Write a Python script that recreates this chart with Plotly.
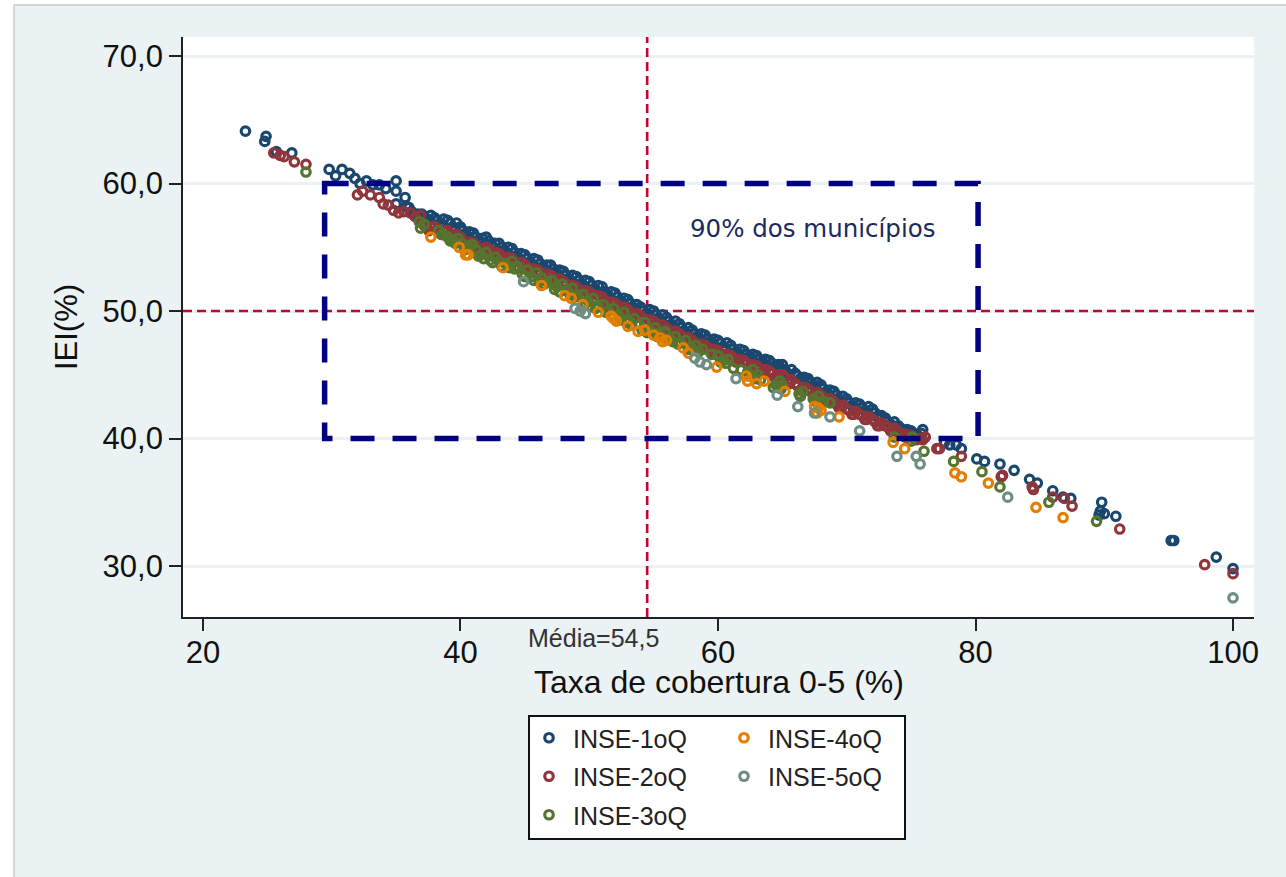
import plotly.graph_objects as go

series_names = ["INSE-1oQ", "INSE-2oQ", "INSE-3oQ", "INSE-4oQ", "INSE-5oQ"]
series_colors = ["#1a476f", "#90353b", "#55752f", "#e37e00", "#6e8e84"]
series_legends = ["legend", "legend", "legend", "legend2", "legend2"]

x_ticks = [20, 40, 60, 80, 100]
y_ticks = [30, 40, 50, 60, 70]
y_tick_labels = ["30,0", "40,0", "50,0", "60,0", "70,0"]

q1_x = [23.3, 24.9, 24.8, 25.7, 26.9, 29.8, 30.3, 30.8, 31.4, 31.8, 32.2, 32.7, 33.2, 33.7, 34.2, 35.0, 35.0, 35.7, 35.0, 35.8,
        36.0, 36.4, 36.7, 37.0, 37.4, 37.7, 38.0, 38.4, 38.7, 39.0, 39.4, 39.7, 40.0, 40.4, 40.7, 41.0, 41.4, 41.7,
        42.0, 42.4, 42.7, 43.0, 43.4, 43.7, 44.0, 44.4, 44.7, 45.0, 45.4, 45.7, 46.0, 46.4, 46.7, 47.0, 47.4, 47.7,
        48.0, 48.4, 48.7, 49.0, 49.4, 49.7, 50.0, 50.4, 50.7, 51.0, 51.4, 51.7, 52.0, 52.4, 52.7, 53.0, 53.4, 53.7,
        54.0, 54.4, 54.7, 55.0, 55.4, 55.7, 56.0, 56.4, 56.7, 57.0, 57.4, 57.7, 58.0, 58.4, 58.7, 59.0, 59.4, 59.7,
        60.0, 60.4, 60.7, 61.0, 61.4, 61.7, 62.0, 62.4, 62.7, 63.0, 63.4, 63.7, 64.0, 64.4, 64.7, 65.0, 65.4, 65.7,
        66.0, 66.4, 66.7, 67.0, 67.4, 67.7, 68.0, 68.4, 68.7, 69.0, 69.4, 69.7, 70.0, 70.4, 70.7, 71.0, 71.4, 71.7,
        72.0, 72.4, 72.7, 73.0, 73.4, 73.7, 74.0, 74.4, 74.7, 75.0, 75.4, 75.8, 75.9,
        77.6, 78.0, 78.5, 78.9, 80.1, 80.7, 81.9, 83.0, 84.2, 84.8, 86.0, 86.8, 87.4, 89.8, 89.7, 89.6, 90.0, 90.9, 95.2, 95.4, 98.7, 100.0,
        36.2, 37.2, 38.2, 39.2, 40.2, 41.2, 42.2, 43.2, 44.2, 45.2, 46.2, 47.2, 48.2, 49.2, 50.2, 51.2, 52.2, 53.2, 54.2, 55.2,
        56.2, 57.2, 58.2, 59.2, 60.2, 61.2, 62.2, 63.2, 64.2, 65.2, 66.2, 67.2, 68.2, 69.2, 70.2, 71.2, 72.2, 73.2, 74.2, 75.2,
        36.55, 37.55, 38.55, 39.55, 40.55, 41.55, 42.55, 43.55, 44.55, 45.55, 46.55, 47.55, 48.55, 49.55, 50.55, 51.55, 52.55, 53.55, 54.55, 55.55,
        56.55, 57.55, 58.55, 59.55, 60.55, 61.55, 62.55, 63.55, 64.55, 65.55, 66.55, 67.55, 68.55, 69.55, 70.55, 71.55, 72.55, 73.55, 74.55, 75.55]
q1_y = [64.1, 63.7, 63.3, 62.5, 62.4, 61.1, 60.6, 61.1, 60.8, 60.4, 60.0, 60.2, 59.9, 59.9, 59.6, 60.2, 59.4, 58.9, 58.4, 58.2,
        58.1, 57.5, 57.6, 57.6, 57.2, 57.5, 57.3, 56.9, 57.2, 57.1, 56.6, 56.9, 56.6, 56.0, 56.2, 56.1, 55.5, 55.7,
        55.8, 55.1, 55.3, 55.3, 54.7, 55.0, 54.9, 54.2, 54.5, 54.4, 53.8, 54.1, 54.0, 53.4, 53.6, 53.6, 53.0, 53.2,
        53.1, 52.5, 52.8, 52.7, 52.1, 52.4, 52.3, 51.7, 52.0, 51.9, 51.2, 51.5, 51.4, 50.8, 51.0, 50.9, 50.3, 50.5,
        50.3, 49.8, 50.1, 50.0, 49.4, 49.7, 49.5, 48.9, 49.2, 49.0, 48.4, 48.7, 48.5, 48.0, 48.2, 48.1, 47.6, 47.8,
        47.7, 47.2, 47.5, 47.3, 46.8, 47.0, 46.9, 46.4, 46.6, 46.5, 46.0, 46.2, 46.1, 45.7, 45.8, 45.8, 45.1, 45.4,
        45.1, 44.7, 44.8, 44.7, 44.2, 44.4, 44.2, 43.6, 43.8, 43.7, 43.1, 43.3, 43.1, 42.6, 42.8, 42.7, 42.2, 42.5,
        42.3, 41.7, 41.8, 41.6, 41.1, 41.3, 41.0, 40.6, 40.7, 40.6, 40.2, 40.4, 40.7,
        39.7, 39.5, 39.5, 39.2, 38.4, 38.2, 38.0, 37.5, 36.8, 36.5, 35.9, 35.4, 35.3, 35.0, 34.3, 34.0, 34.1, 33.9, 32.0, 32.0, 30.7, 29.8,
        57.8, 57.4, 57.1, 56.9, 56.3, 55.8, 55.5, 55.0, 54.6, 54.1, 53.7, 53.3, 52.8, 52.4, 52.0, 51.5, 51.1, 50.6, 50.0, 49.7,
        49.2, 48.7, 48.2, 47.8, 47.5, 47.0, 46.6, 46.2, 45.9, 45.4, 44.9, 44.4, 43.9, 43.4, 42.8, 42.4, 42.0, 41.3, 40.8, 40.4,
        57.4, 57.1, 56.8, 56.5, 55.9, 55.4, 55.0, 54.6, 54.1, 53.7, 53.3, 52.9, 52.4, 52.0, 51.6, 51.1, 50.7, 50.2, 49.7, 49.3,
        48.8, 48.3, 47.9, 47.5, 47.1, 46.7, 46.3, 45.9, 45.6, 45.0, 44.6, 44.1, 43.5, 43.0, 42.5, 42.1, 41.6, 41.0, 40.5, 40.2]

q2_x = [25.5, 26.0, 26.3, 27.1, 28.0, 32.0, 32.4, 33.0, 33.7, 34.0, 34.4, 34.8, 35.2, 35.6, 36.1, 36.5, 36.9,
        37.0, 37.4, 37.7, 38.0, 38.4, 38.7, 39.0, 39.4, 39.7, 40.0, 40.4, 40.7, 41.0, 41.4, 41.7, 42.0, 42.4, 42.7,
        43.0, 43.4, 43.7, 44.0, 44.4, 44.7, 45.0, 45.4, 45.7, 46.0, 46.4, 46.7, 47.0, 47.4, 47.7, 48.0, 48.4, 48.7,
        49.0, 49.4, 49.7, 50.0, 50.4, 50.7, 51.0, 51.4, 51.7, 52.0, 52.4, 52.7, 53.0, 53.4, 53.7, 54.0, 54.4, 54.7,
        55.0, 55.4, 55.7, 56.0, 56.4, 56.7, 57.0, 57.4, 57.7, 58.0, 58.4, 58.7, 59.0, 59.4, 59.7, 60.0, 60.4, 60.7,
        61.0, 61.4, 61.7, 62.0, 62.4, 62.7, 63.0, 63.4, 63.7, 64.0, 64.4, 64.7, 65.0, 65.4, 65.7, 66.0, 66.4, 66.7,
        67.0, 67.4, 67.7, 68.0, 68.4, 68.7, 69.0, 69.4, 69.7, 70.0, 70.4, 70.7, 71.0, 71.4, 71.7, 72.0, 72.4, 72.7,
        73.0, 73.4, 73.7, 74.0, 74.4, 74.7, 75.0, 75.4, 75.7, 75.9, 76.1,
        77.0, 77.2, 78.9, 82.0, 82.1, 84.4, 84.5, 86.0, 86.9, 87.5, 91.2, 97.8, 100.0,
        37.2, 38.2, 39.2, 40.2, 41.2, 42.2, 43.2, 44.2, 45.2, 46.2, 47.2, 48.2, 49.2, 50.2, 51.2, 52.2, 53.2, 54.2, 55.2, 56.2,
        57.2, 58.2, 59.2, 60.2, 61.2, 62.2, 63.2, 64.2, 65.2, 66.2, 67.2, 68.2, 69.2, 70.2, 71.2, 72.2, 73.2, 74.2, 75.2,
        37.55, 38.55, 39.55, 40.55, 41.55, 42.55, 43.55, 44.55, 45.55, 46.55, 47.55, 48.55, 49.55, 50.55, 51.55, 52.55, 53.55, 54.55, 55.55,
        56.55, 57.55, 58.55, 59.55, 60.55, 61.55, 62.55, 63.55, 64.55, 65.55, 66.55, 67.55, 68.55, 69.55, 70.55, 71.55, 72.55, 73.55, 74.55]
q2_y = [62.4, 62.2, 62.1, 61.7, 61.5, 59.1, 59.4, 59.1, 58.9, 58.4, 58.3, 57.9, 57.7, 57.8, 57.7, 57.4, 57.5,
        56.9, 56.5, 56.6, 56.6, 56.1, 56.3, 56.3, 55.8, 56.0, 55.8, 55.2, 55.4, 55.3, 54.7, 54.9, 55.0, 54.4, 54.6,
        54.5, 53.9, 54.2, 54.1, 53.5, 53.8, 53.6, 53.0, 53.3, 53.2, 52.6, 52.9, 52.8, 52.2, 52.5, 52.3, 51.7, 52.0,
        51.9, 51.3, 51.6, 51.5, 50.9, 51.2, 51.1, 50.5, 50.7, 50.6, 50.0, 50.3, 50.1, 49.5, 49.8, 49.6, 49.0, 49.3,
        49.2, 48.6, 48.9, 48.7, 48.1, 48.4, 48.2, 47.6, 47.9, 47.7, 47.2, 47.4, 47.3, 46.8, 47.0, 46.9, 46.4, 46.6,
        46.5, 46.0, 46.2, 46.1, 45.6, 45.8, 45.7, 45.2, 45.4, 45.3, 44.8, 45.0, 45.0, 44.4, 44.6, 44.3, 43.8, 44.0,
        43.9, 43.4, 43.6, 43.4, 42.9, 43.1, 42.9, 42.4, 42.6, 42.3, 41.9, 42.1, 41.9, 41.5, 41.7, 41.5, 41.0, 41.2,
        41.0, 40.6, 40.8, 40.5, 40.2, 40.3, 40.2, 39.9, 40.0, 39.9, 40.1,
        39.2, 39.2, 38.6, 37.0, 37.1, 36.2, 36.0, 35.4, 35.3, 34.7, 32.9, 30.1, 29.4,
        56.7, 56.4, 56.1, 55.5, 55.1, 54.8, 54.3, 53.9, 53.4, 53.0, 52.6, 52.1, 51.7, 51.3, 50.8, 50.4, 49.9, 49.4, 49.0, 48.5,
        48.0, 47.5, 47.1, 46.7, 46.3, 45.9, 45.5, 45.1, 44.8, 44.1, 43.7, 43.2, 42.7, 42.2, 41.8, 41.3, 40.9, 40.4, 40.0,
        56.3, 56.0, 55.7, 55.1, 54.7, 54.3, 53.9, 53.4, 53.0, 52.6, 52.2, 51.7, 51.3, 50.9, 50.4, 50.0, 49.5, 49.0, 48.6,
        48.1, 47.6, 47.2, 46.8, 46.4, 46.0, 45.6, 45.2, 44.9, 44.3, 43.9, 43.4, 42.9, 42.4, 41.9, 41.5, 41.0, 40.6, 40.1]

q3_x = [28.0, 36.8, 36.9, 37.2, 38.3, 38.6, 39.0, 39.4, 39.8, 40.1, 40.5, 40.9, 41.2, 41.6, 42.0, 42.3, 42.7, 43.0, 43.5,
        44.0, 44.4, 44.8, 45.2, 45.5, 45.9, 46.3, 46.7, 47.1, 47.5, 47.9, 48.3, 48.7, 49.1, 49.5, 49.9, 50.3, 50.7,
        51.1, 51.5, 51.9, 52.3, 52.7, 53.1, 53.5, 53.9, 54.3, 54.7, 55.1, 55.5, 55.9, 56.3, 56.7, 57.1, 57.5, 57.9,
        58.3, 58.8, 59.5, 60.0, 60.4, 60.8, 61.2, 61.8, 62.3, 62.7, 63.1, 64.3, 64.5, 64.8, 65.0, 66.3, 66.6, 67.4,
        67.8, 68.2, 68.7, 73.7, 75.0, 75.1, 76.0, 78.3, 80.5, 81.9, 85.7, 89.4,
        39.2, 39.6, 40.3, 40.7, 41.4, 41.8, 42.5, 43.2, 43.8, 44.2, 45.0, 45.7, 46.1, 46.5, 47.3, 47.7, 48.5, 48.9, 49.7, 50.1,
        50.5, 51.3, 51.7, 52.5, 52.9, 53.3, 54.1, 54.5, 55.3, 55.7, 56.5, 56.9, 57.7, 58.1, 58.5, 60.2, 60.6, 62.5, 62.9, 63.3,
        64.7, 64.9, 66.4, 67.6, 68.0]
q3_y = [60.9, 57.0, 56.5, 56.8, 56.3, 56.0, 55.8, 55.6, 55.7, 55.3, 55.0, 55.2, 54.8, 54.4, 54.6, 54.0, 54.2, 53.9, 53.7,
        53.9, 53.5, 52.9, 53.2, 52.7, 53.0, 52.6, 52.3, 52.4, 51.9, 52.1, 51.6, 51.8, 51.2, 51.3, 50.8, 51.0, 50.4,
        50.5, 50.0, 50.2, 49.6, 49.9, 49.2, 49.4, 48.9, 49.1, 48.5, 48.7, 48.3, 48.4, 47.8, 48.0, 47.5, 47.7, 47.1,
        47.3, 47.0, 46.6, 46.5, 46.1, 46.2, 45.5, 45.4, 45.2, 45.4, 45.0, 44.0, 44.2, 44.5, 44.2, 43.5, 43.7, 43.1,
        43.3, 42.9, 42.8, 40.1, 39.8, 40.1, 39.0, 38.2, 37.4, 36.2, 35.0, 33.5,
        55.5, 55.3, 54.8, 55.0, 54.3, 54.1, 53.8, 53.5, 53.4, 53.3, 52.7, 52.4, 52.3, 52.1, 51.7, 51.5, 51.3, 51.1, 50.6, 50.4,
        50.2, 49.9, 49.7, 49.3, 49.1, 48.9, 48.5, 48.3, 48.0, 47.9, 47.6, 47.4, 47.0, 46.9, 46.8, 46.0, 45.9, 44.9, 44.7, 44.6,
        44.0, 43.9, 43.3, 42.9, 42.7]

q4_x = [37.7, 39.9, 40.4, 40.6, 43.3, 46.3, 48.1, 48.6, 49.5, 50.7, 51.7, 51.9, 52.1, 53.0, 53.8, 54.3, 55.0, 55.5, 55.7, 56.0,
        57.3, 57.7, 59.9, 62.2, 62.3, 63.0, 63.6, 65.2, 67.5, 67.8, 68.0, 67.7, 69.4, 73.6, 74.5, 78.4, 78.9, 81.0, 84.7, 86.8]
q4_y = [55.8, 55.0, 54.4, 54.4, 53.4, 52.0, 51.2, 51.0, 50.5, 49.9, 49.6, 49.4, 49.2, 48.8, 48.4, 48.5, 48.1, 47.9, 47.6, 47.7,
        47.1, 46.7, 45.6, 44.9, 44.5, 44.3, 44.5, 43.7, 42.5, 42.4, 42.2, 42.0, 41.7, 39.7, 39.2, 37.3, 37.0, 36.5, 34.6, 33.8]

q5_x = [44.9, 48.9, 49.3, 49.7, 58.2, 58.6, 59.1, 61.4, 64.6, 66.2, 67.5, 68.7, 71.0, 73.9, 75.4, 75.7, 82.5, 100.0]
q5_y = [52.3, 50.2, 50.0, 49.8, 46.3, 46.0, 45.8, 44.7, 43.4, 42.5, 42.0, 41.7, 40.6, 38.6, 38.6, 38.0, 35.4, 27.5]

series_x = [q1_x, q2_x, q3_x, q4_x, q5_x]
series_y = [q1_y, q2_y, q3_y, q4_y, q5_y]

mean_x = 54.5
mean_y = 50
box_x = [29.45, 80.2]
box_y = [40, 60]
x_range = [18.45, 101.63]
y_range = [26.0, 71.49]

W, H = 1286, 877
L, R, T, B = 183, 1254, 37, 617
pw, ph = R - L, B - T


def px(v):
    return (v - L) / pw


def py(v):
    return (B - v) / ph


fig = go.Figure()
for name, color, leg, xs, ys in zip(series_names, series_colors, series_legends, series_x, series_y):
    fig.add_trace(go.Scatter(
        x=xs, y=ys, mode="markers", name=name, legend=leg, legendgroup=name,
        marker=dict(symbol="circle-open", size=8.5, color=color, line=dict(width=3.2, color=color)),
    ))

shapes = [
    dict(type="rect", xref="paper", yref="paper", x0=px(14), x1=px(W + 5), y0=py(H + 5), y1=py(5),
         fillcolor="#eaf2f3", line=dict(color="#cccccc", width=1.5), layer="below"),
    dict(type="rect", xref="paper", yref="paper", x0=0, x1=1, y0=0, y1=1,
         fillcolor="white", line=dict(width=0), layer="below"),
    dict(type="rect", xref="paper", yref="paper", x0=px(529), x1=px(905), y0=py(839), y1=py(716),
         fillcolor="white", line=dict(color="#111111", width=2), layer="below"),
    dict(type="line", xref="x", yref="y", x0=x_range[0], x1=x_range[1], y0=mean_y, y1=mean_y,
         line=dict(color="#c10534", width=2.6, dash="9px,5px"), layer="between"),
    dict(type="line", xref="x", yref="y", x0=mean_x, x1=mean_x, y0=y_range[0], y1=y_range[1],
         line=dict(color="#c10534", width=2.6, dash="9px,5px"), layer="between"),
    dict(type="path", xref="x", yref="y",
         path=f"M {box_x[0]} {box_y[1]} L {box_x[1]} {box_y[1]} L {box_x[1]} {box_y[0]} L {box_x[0]} {box_y[0]} Z",
         line=dict(color="#000080", width=5.5, dash="24px,18px"), layer="above"),
]

annotations = [
    dict(text="90% dos municípios", xref="paper", yref="paper", x=px(812.5), y=py(228), showarrow=False,
         xanchor="center", yanchor="middle", font=dict(family="DejaVu Sans", size=24.5, color="#1c2a5e")),
    dict(text="Média=54,5", xref="paper", yref="paper", x=px(593.5), y=py(638), showarrow=False,
         xanchor="center", yanchor="middle", font=dict(family="Liberation Sans", size=25, color="#333333")),
    dict(text="Taxa de cobertura 0-5 (%)", xref="paper", yref="paper", x=px(718.5), y=py(682), showarrow=False,
         xanchor="center", yanchor="middle", font=dict(family="Liberation Sans", size=32, color="#111111")),
]


def legend_at(left, top):
    return dict(x=px(left), y=py(top), xanchor="left", yanchor="top",
                bgcolor="rgba(0,0,0,0)", borderwidth=0, itemwidth=38, traceorder="grouped", tracegroupgap=3,
                font=dict(family="Liberation Sans", size=25, color="#222222"),
                itemclick=False, itemdoubleclick=False)


fig.update_layout(
    width=W, height=H,
    margin=dict(l=L, r=W - R, t=T, b=H - B, pad=0),
    paper_bgcolor="white", plot_bgcolor="white",
    font=dict(family="Liberation Sans", color="#111111"),
    shapes=shapes, annotations=annotations,
    showlegend=True,
    legend=legend_at(525, 715),
    legend2=legend_at(720, 715),
    xaxis=dict(range=x_range, tickvals=x_ticks, ticktext=[str(v) for v in x_ticks],
               showgrid=False, zeroline=False, showline=True, linecolor="#222222", linewidth=1.8,
               ticks="outside", ticklen=12, tickwidth=1.8, tickcolor="#222222",
               ticklabelstandoff=-5,
               tickfont=dict(size=31, color="#111111")),
    yaxis=dict(range=y_range, tickvals=y_ticks, ticktext=y_tick_labels,
               showgrid=True, gridcolor="#eaf2f3", gridwidth=3, zeroline=False,
               showline=True, linecolor="#222222", linewidth=1.8,
               ticks="outside", ticklen=12, tickwidth=1.8, tickcolor="#222222",
               tickfont=dict(size=31, color="#111111"),
               title=dict(text="IEI(%)", font=dict(size=31, color="#111111"), standoff=16)),
)

fig.write_html("out.html", config=dict(displayModeBar=False),
               post_script="document.body.style.margin='0';document.documentElement.style.overflow='hidden';")
